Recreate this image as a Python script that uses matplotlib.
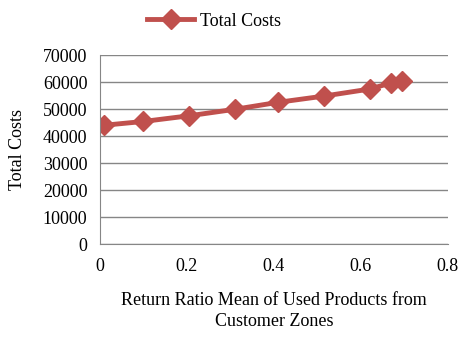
import matplotlib
matplotlib.use('Agg')
import matplotlib.pyplot as plt

plt.rcParams['font.family'] = ['Liberation Serif', 'DejaVu Serif']

# return ratio mean vs total costs
ratio = [0.01, 0.10, 0.205, 0.31, 0.41, 0.515, 0.62, 0.67, 0.695]
costs = [44000, 45400, 47500, 49900, 52500, 54800, 57400, 59700, 60500]
yticks = [0, 10000, 20000, 30000, 40000, 50000, 60000, 70000]
xticks = [0, 0.2, 0.4, 0.6, 0.8]

red = '#C0504D'
grey = '#868686'

fig = plt.figure(figsize=(4.58, 3.42), dpi=100)
ax = fig.add_axes([0.218, 0.2865, 0.76, 0.5525])

ax.plot(ratio, costs, c=red, lw=3.5, marker='D', ms=10, label='Total Costs')

ax.set_xlim(0, 0.8)
ax.set_ylim(0, 70000)
ax.set_xticks(xticks)
ax.set_xticklabels(['0', '0.2', '0.4', '0.6', '0.8'])
ax.set_yticks(yticks)
ax.yaxis.grid(True, color=grey, lw=1)
ax.set_axisbelow(True)
for s in ['top', 'right']:
    ax.spines[s].set_visible(False)
for s in ['left', 'bottom']:
    ax.spines[s].set_color(grey)
ax.tick_params(length=0, labelsize=13)
ax.tick_params(axis='y', pad=9)
ax.tick_params(axis='x', pad=10)

ax.set_xlabel('Return Ratio Mean of Used Products from\nCustomer Zones', fontsize=13,
              labelpad=12, linespacing=1.35)
ax.set_ylabel('Total Costs', fontsize=13, labelpad=12)

ax.legend(loc='upper left', bbox_to_anchor=(0.09, 1.31), frameon=False, fontsize=13,
          handlelength=2.6, handletextpad=0.3)

fig.savefig('out.png', dpi=100)
